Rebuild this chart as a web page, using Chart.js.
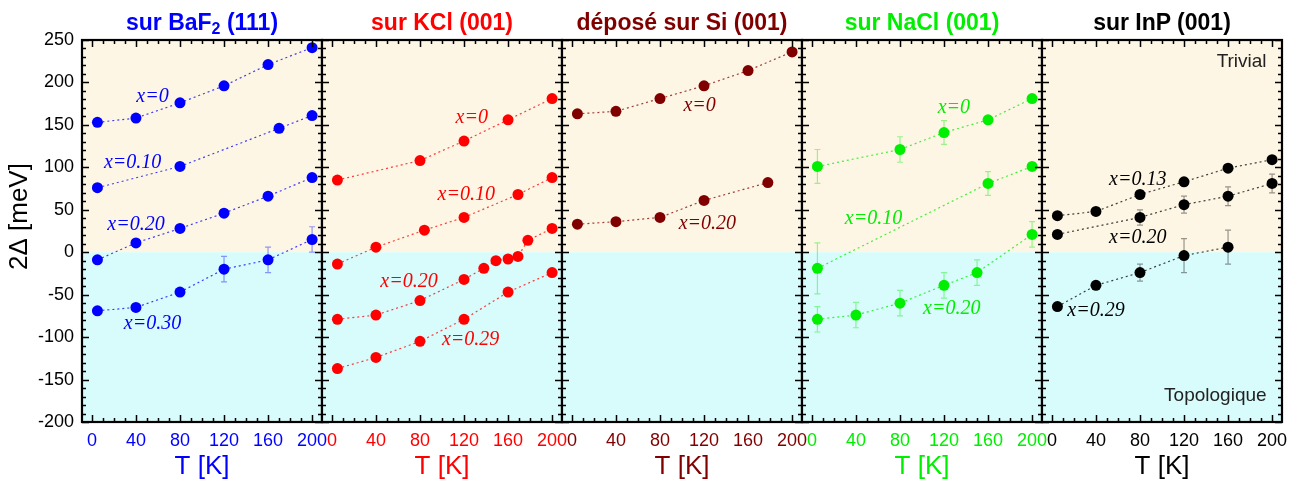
<!DOCTYPE html>
<html>
<head>
<meta charset="utf-8">
<script src="https://cdn.jsdelivr.net/npm/chart.js@4.4.0/dist/chart.umd.min.js"></script>
<style>
  body { margin: 0; background: #fff; width: 1299px; height: 484px; overflow: hidden; position: relative;
         font-family: "Liberation Sans", Arial, sans-serif; }
  canvas { position: absolute; top: 0; }
  .ttl { position: absolute; top: 8px; width: 240px; text-align: center; font-weight: bold; font-size: 23px; line-height: 28px; white-space: nowrap; }
  .ttl sub { font-size: 16px; vertical-align: -4px; line-height: 0; }
</style>
</head>
<body>

<canvas id="p0" width="342" height="484" style="left:0px"></canvas>
<canvas id="p1" width="280" height="484" style="left:302px"></canvas>
<canvas id="p2" width="280" height="484" style="left:542px"></canvas>
<canvas id="p3" width="280" height="484" style="left:782px"></canvas>
<canvas id="p4" width="280" height="484" style="left:1022px"></canvas>

<div class="ttl" style="left:82px;color:#0000ff">sur BaF<sub>2</sub> (111)</div>
<div class="ttl" style="left:322px;color:#ff0000">sur KCl (001)</div>
<div class="ttl" style="left:562px;color:#800000">déposé sur Si (001)</div>
<div class="ttl" style="left:802px;color:#00ee00">sur NaCl (001)</div>
<div class="ttl" style="left:1042px;color:#000000">sur InP (001)</div>

<script>
// axes
const yTicks = [-200, -150, -100, -50, 0, 50, 100, 150, 200, 250];
const xTicks = [0, 40, 80, 120, 160, 200];

// sur BaF2 (111)
const bafT_0 = [5, 40, 80, 120, 160, 200];
const baf_0 = [153, 158, 176, 196, 221, 241];
const bafT_10 = [5, 80, 170, 200];
const baf_10 = [76, 101, 146, 161];
const bafT_20 = [5, 40, 80, 120, 160, 200];
const baf_20 = [-9, 11, 28, 46, 66, 88];
const bafT_30 = [5, 40, 80, 120, 160, 200];
const baf_30 = [-69, -65, -47, -20, -9, 15];
const bafErr_30 = [0, 0, 0, 15, 15, 15];

// sur KCl (001)
const kclT_0 = [5, 80, 120, 160, 200];
const kcl_0 = [85, 108, 131, 156, 181];
const kclT_10 = [5, 40, 84, 120, 169, 200];
const kcl_10 = [-14, 6, 26, 41, 68, 88];
const kclT_20 = [5, 40, 80, 120, 138, 149, 160, 169, 178, 200];
const kcl_20 = [-79, -74, -57, -32, -19, -10, -8, -5, 14, 28];
const kclT_29 = [5, 40, 80, 120, 160, 200];
const kcl_29 = [-137, -124, -105, -79, -47, -24];

// déposé sur Si (001)
const siT_0 = [5, 40, 80, 120, 160, 200];
const si_0 = [163, 166, 181, 196, 214, 236];
const siT_20 = [5, 40, 80, 120, 178];
const si_20 = [33, 36, 41, 61, 82];

// sur NaCl (001)
const naclT_0 = [5, 80, 120, 160, 200];
const nacl_0 = [101, 121, 141, 156, 181];
const naclErr_0 = [20, 15, 14, 0, 0];
const naclT_10 = [5, 160, 200];
const nacl_10 = [-19, 81, 101];
const naclErr_10 = [30, 14, 0];
const naclT_20 = [5, 40, 80, 120, 150, 200];
const nacl_20 = [-79, -74, -60, -39, -24, 21];
const naclErr_20 = [15, 15, 15, 15, 15, 15];

// sur InP (001)
const inpT_13 = [5, 40, 80, 120, 160, 200];
const inp_13 = [43, 48, 68, 83, 99, 109];
const inpT_20 = [5, 80, 120, 160, 200];
const inp_20 = [21, 41, 56, 66, 81];
const inpErr_20 = [0, 9, 10, 11, 11];
const inpT_29 = [5, 40, 80, 120, 160];
const inp_29 = [-64, -39, -24, -4, 6];
const inpErr_29 = [0, 0, 10, 20, 20];

const topFill = '#fdf6e4';
const bottomFill = '#d8fbfc';

function series(ts, vs, errs) {
    return { pts: ts.map((t, i) => ({ x: t, y: vs[i] })), errs: errs || [] };
}

const panels = [
    { id: 'p0', color: '#0000ff', rgb: '0,0,255', left: true,
      series: [series(bafT_0, baf_0), series(bafT_10, baf_10), series(bafT_20, baf_20), series(bafT_30, baf_30, bafErr_30)],
      labels: [['x=0', 55, 183], ['x=0.10', 37, 105], ['x=0.20', 40, 32], ['x=0.30', 55, -84]] },
    { id: 'p1', color: '#ff0000', rgb: '255,0,0',
      series: [series(kclT_0, kcl_0), series(kclT_10, kcl_10), series(kclT_20, kcl_20), series(kclT_29, kcl_29)],
      labels: [['x=0', 127, 158], ['x=0.10', 122, 68], ['x=0.20', 70, -35], ['x=0.29', 126, -103]] },
    { id: 'p2', color: '#800000', rgb: '128,0,0',
      series: [series(siT_0, si_0), series(siT_20, si_20)],
      labels: [['x=0', 116, 172], ['x=0.20', 123, 34]] },
    { id: 'p3', color: '#00ee00', rgb: '0,238,0',
      series: [series(naclT_0, nacl_0, naclErr_0), series(naclT_10, nacl_10, naclErr_10), series(naclT_20, nacl_20, naclErr_20)],
      labels: [['x=0', 129, 170], ['x=0.10', 56, 40], ['x=0.20', 127, -67]] },
    { id: 'p4', color: '#000000', rgb: '0,0,0', right: true,
      series: [series(inpT_13, inp_13), series(inpT_20, inp_20, inpErr_20), series(inpT_29, inp_29, inpErr_29)],
      labels: [['x=0.13', 78, 85], ['x=0.20', 78, 17], ['x=0.29', 40, -69]] }
];

// background bands, error bars, frame with inward ticks, curve labels
const framePlugin = {
    id: 'frame',
    beforeDatasetsDraw(chart, args, opts) {
        const { ctx, chartArea: a, scales: { x, y } } = chart;
        const y0 = y.getPixelForValue(0);
        ctx.save();
        ctx.fillStyle = topFill;
        ctx.fillRect(a.left, a.top, a.width, y0 - a.top);
        ctx.fillStyle = bottomFill;
        ctx.fillRect(a.left, y0, a.width, a.bottom - y0);

        // error bars
        ctx.strokeStyle = `rgba(${opts.rgb},0.4)`;
        ctx.lineWidth = 1.2;
        opts.series.forEach(s => {
            s.pts.forEach((p, i) => {
                const e = s.errs[i];
                if (!e) return;
                const px = x.getPixelForValue(p.x);
                const top = y.getPixelForValue(p.y + e);
                const bot = y.getPixelForValue(p.y - e);
                ctx.beginPath();
                ctx.moveTo(px, top); ctx.lineTo(px, bot);
                ctx.moveTo(px - 3, top); ctx.lineTo(px + 3, top);
                ctx.moveTo(px - 3, bot); ctx.lineTo(px + 3, bot);
                ctx.stroke();
            });
        });
        ctx.restore();
    },
    afterDatasetsDraw(chart, args, opts) {
        const { ctx, chartArea: a, scales: { x, y } } = chart;
        ctx.save();
        ctx.fillStyle = opts.color;
        ctx.font = 'italic 20px "Liberation Serif", "Times New Roman", serif';
        ctx.textAlign = 'center';
        ctx.textBaseline = 'middle';
        opts.labels.forEach(l => ctx.fillText(l[0], x.getPixelForValue(l[1]), y.getPixelForValue(l[2])));

        if (opts.right) {
            ctx.fillStyle = '#222';
            ctx.font = '19px "Liberation Sans", Arial, sans-serif';
            ctx.textAlign = 'right';
            ctx.fillText('Trivial', x.getPixelForValue(195), y.getPixelForValue(224));
            ctx.fillText('Topologique', x.getPixelForValue(195), y.getPixelForValue(-169));
        }

        // inward ticks on the four sides
        ctx.strokeStyle = '#000';
        ctx.lineWidth = 1.5;
        ctx.beginPath();
        for (let t = 0; t <= 200; t += 10) {
            const px = Math.round(x.getPixelForValue(t)) + 0.5;
            const len = t % 40 === 0 ? 7 : 4;
            ctx.moveTo(px, a.top); ctx.lineTo(px, a.top + len);
            ctx.moveTo(px, a.bottom); ctx.lineTo(px, a.bottom - len);
        }
        for (let v = -200; v <= 250; v += 10) {
            const py = Math.round(y.getPixelForValue(v)) + 0.5;
            const len = v % 50 === 0 ? 7 : 4;
            ctx.moveTo(a.left, py); ctx.lineTo(a.left + len, py);
            ctx.moveTo(a.right, py); ctx.lineTo(a.right - len, py);
        }
        ctx.stroke();

        ctx.lineWidth = 2.2;
        ctx.strokeRect(a.left, a.top, a.width, a.height);
        ctx.restore();
    }
};

panels.forEach(p => {
    const datasets = p.series.map(s => ({
        data: s.pts,
        showLine: true,
        borderColor: `rgba(${p.rgb},0.75)`,
        borderWidth: 1.2,
        borderDash: [2, 3],
        backgroundColor: p.color,
        pointBackgroundColor: p.color,
        pointBorderWidth: 0,
        pointRadius: 5.5,
        tension: 0
    }));

    new Chart(document.getElementById(p.id), {
        type: 'line',
        data: { datasets },
        plugins: [framePlugin],
        options: {
            responsive: false,
            animation: false,
            devicePixelRatio: 1,
            layout: { padding: { top: 40, left: p.left ? 0 : 20, right: 20, bottom: 0 } },
            plugins: {
                legend: { display: false },
                tooltip: { enabled: false },
                frame: { rgb: p.rgb, color: p.color, series: p.series, labels: p.labels, right: !!p.right }
            },
            scales: {
                x: {
                    type: 'linear',
                    min: -9,
                    max: 209,
                    afterBuildTicks: s => { s.ticks = xTicks.map(v => ({ value: v })); },
                    afterFit: s => { s.height = 62; },
                    grid: { display: false, drawTicks: false },
                    border: { display: false },
                    ticks: { color: p.color, padding: 8, maxRotation: 0, autoSkip: false,
                             font: { size: 18, family: '"Liberation Sans", Arial, sans-serif' } },
                    title: { display: true, text: 'T [K]', color: p.color, padding: { top: 0, bottom: 2 },
                             font: { size: 26, family: '"Liberation Sans", Arial, sans-serif' } }
                },
                y: {
                    type: 'linear',
                    min: -200,
                    max: 250,
                    display: !!p.left,
                    afterBuildTicks: s => { s.ticks = yTicks.map(v => ({ value: v })); },
                    afterFit: s => { if (p.left) s.width = 82; },
                    grid: { display: false, drawTicks: false },
                    border: { display: false },
                    ticks: { color: '#000', padding: 8,
                             font: { size: 18, family: '"Liberation Sans", Arial, sans-serif' } },
                    title: { display: true, text: '    2Δ [meV]', color: '#000', padding: { top: 4, bottom: 0 },
                             font: { size: 26, family: '"Liberation Sans", Arial, sans-serif' } }
                }
            }
        }
    });
});
</script>
</body>
</html>
